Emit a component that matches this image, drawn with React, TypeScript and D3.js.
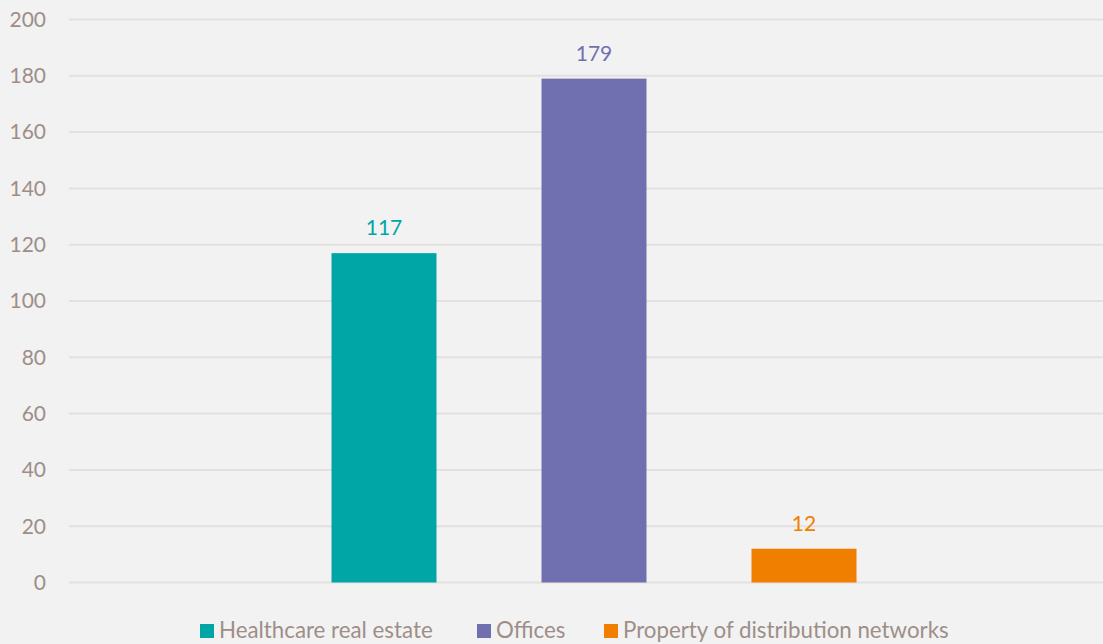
import React from "react";
import * as d3 from "d3";

const series = ["Healthcare real estate", "Offices", "Property of distribution networks"];
const values = [117, 179, 12];
const colors = ["#00A6A6", "#7070B0", "#F07F00"];
const yTicks = [0, 20, 40, 60, 80, 100, 120, 140, 160, 180, 200];

const W = 1103;
const H = 644;
const FONT = "Lato, 'Open Sans', sans-serif";
const TEXT = "#9E8E88";

export default function App() {
  const y = d3.scaleLinear().domain([0, 200]).range([582.5, 19.5]);
  const x = d3.scaleBand<string>().domain(series).range([69, 1119]).paddingInner(0.5).paddingOuter(1.25);
  const legendX = [200, 477, 604];
  return (
    <svg width={W} height={H} style={{ position: "absolute", left: 0, top: 0, background: "#F2F2F2" }}>
      <rect x={0} y={0} width={W} height={H} fill="#F2F2F2" />
      {yTicks.map((t) => (
        <g key={t}>
          <line x1={69} x2={W} y1={y(t)} y2={y(t)} stroke="#E6DFDF" strokeWidth={2} />
          <text x={46} y={y(t)} dy="0.35em" textAnchor="end" fontFamily={FONT} fontSize={21} fill={TEXT}>
            {t}
          </text>
        </g>
      ))}
      {series.map((s, i) => (
        <g key={s}>
          <rect x={x(s)} y={y(values[i])} width={x.bandwidth()} height={y(0) - y(values[i])} fill={colors[i]} />
          <text x={(x(s) as number) + x.bandwidth() / 2} y={y(values[i]) - 25} dy="0.35em" textAnchor="middle" fontFamily={FONT} fontSize={21} fill={colors[i]}>
            {values[i]}
          </text>
        </g>
      ))}
      {series.map((s, i) => (
        <g key={"l" + s}>
          <rect x={legendX[i]} y={624} width={14} height={14} fill={colors[i]} />
          <text x={legendX[i] + 19} y={638} fontFamily={FONT} fontSize={22.3} fill={TEXT}>
            {s}
          </text>
        </g>
      ))}
    </svg>
  );
}
